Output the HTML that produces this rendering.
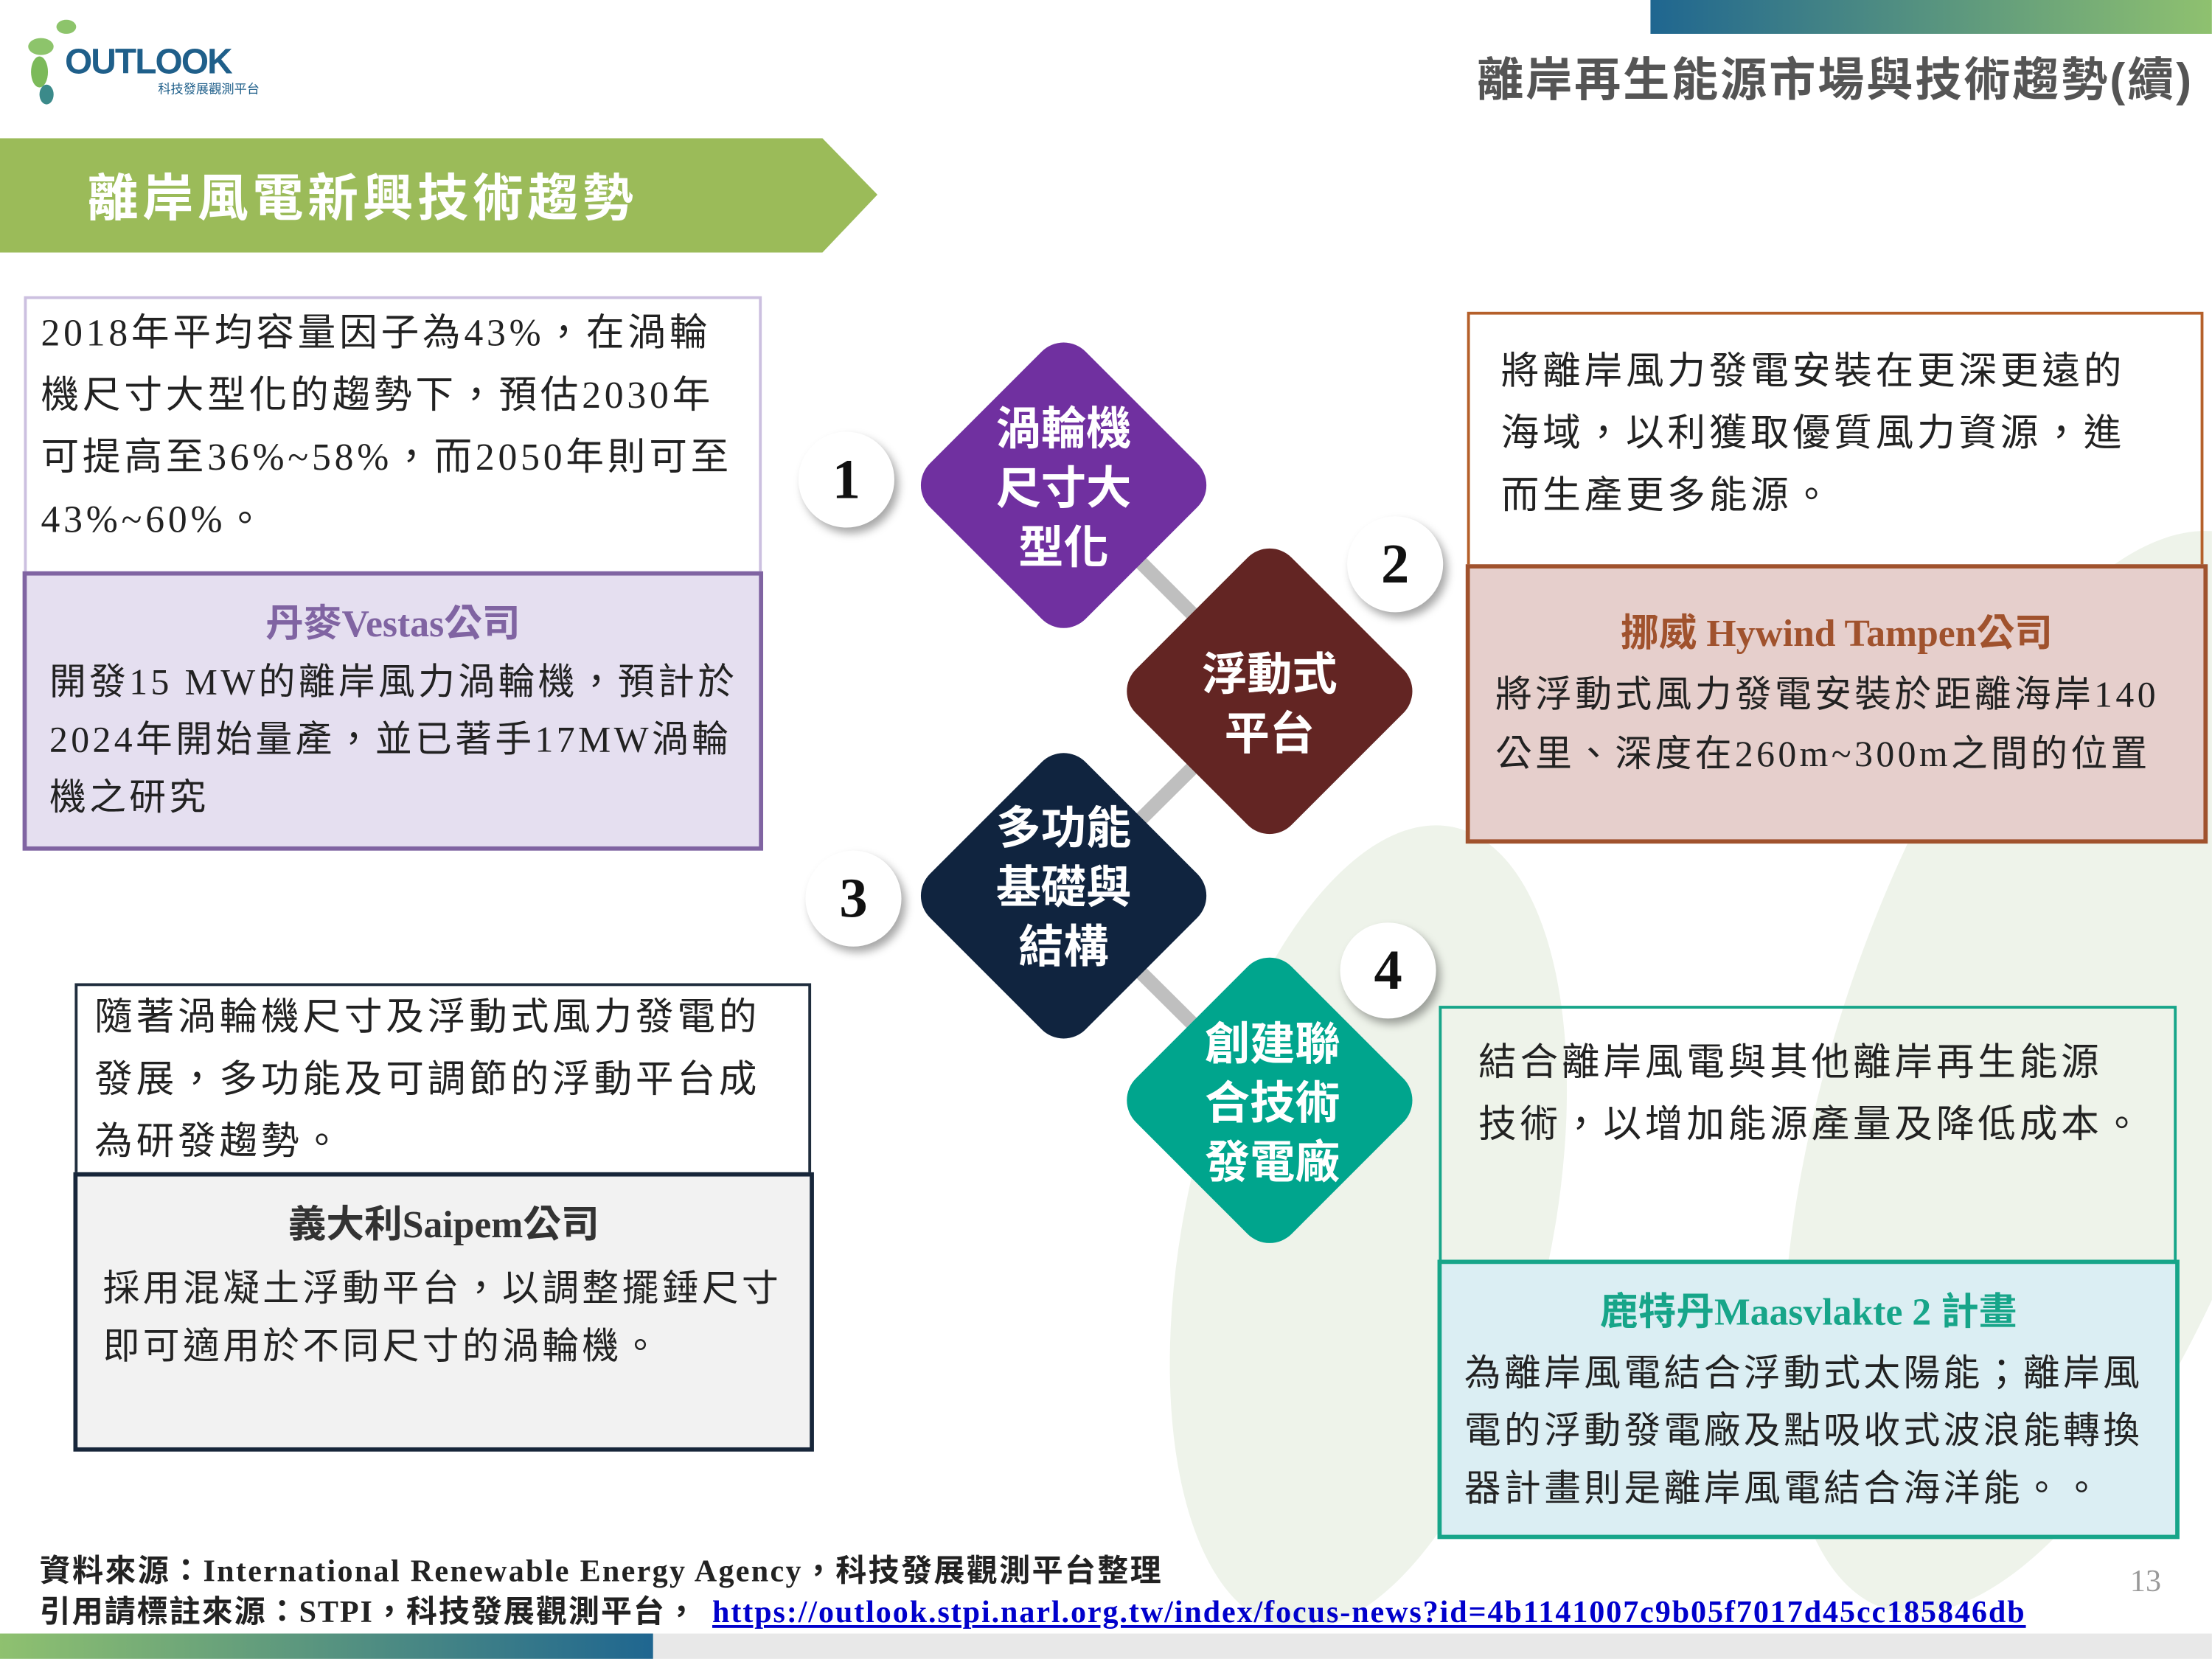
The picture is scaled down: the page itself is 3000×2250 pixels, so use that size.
<!DOCTYPE html>
<html style="overflow:hidden;"><head><meta charset="utf-8">
<style>
html,body{margin:0;padding:0;background:#fff;}
body{width:3000px;height:2250px;overflow:hidden;}
#outer{position:relative;width:3000px;height:2250px;overflow:hidden;}
#w{position:absolute;left:0;top:0;width:1568px;height:1176px;overflow:hidden;transform:scale(1.9132);transform-origin:0 0;font-family:"Liberation Serif","Noto Sans CJK TC",serif;color:#222;}
.a{position:absolute;box-sizing:border-box;}
.t{font-size:27px;line-height:44px;letter-spacing:2.5px;white-space:nowrap;}
.dia{position:absolute;width:156px;height:156px;border-radius:22px;transform:rotate(45deg);}
.dl{position:absolute;width:160px;text-align:center;color:#fff;font-family:"Liberation Sans","Noto Sans CJK TC",sans-serif;font-weight:bold;font-size:32px;line-height:42px;}
.num{position:absolute;width:68px;height:68px;border-radius:50%;background:#fff;box-shadow:3px 4px 6px rgba(0,0,0,.35);font-weight:bold;font-size:40px;text-align:center;line-height:68px;color:#111;}
.h{font-weight:bold;text-align:center;font-size:27px;}
.b{font-size:26px;line-height:41px;letter-spacing:2.3px;white-space:nowrap;}
</style></head><body><div id="outer"><div id="w">
<svg class="a" style="left:0;top:0" width="1568" height="1176"><g fill="#eef3ea"><ellipse cx="1460" cy="760" rx="160" ry="400" transform="rotate(18 1460 760)"/><ellipse cx="970" cy="870" rx="130" ry="290" transform="rotate(12 970 870)"/></g></svg>
<div class="a" style="left:1170px;top:0;width:398px;height:24px;background:linear-gradient(90deg,#1f6690,#8fc16f);"></div>
<div class="a" style="left:1000px;top:30px;width:555px;text-align:right;font-size:33px;font-weight:bold;color:#555;font-family:'Liberation Sans','Noto Sans CJK TC',sans-serif;letter-spacing:1.5px;">離岸再生能源市場與技術趨勢(續)</div>
<div class="a" style="left:22px;top:40px;width:12px;height:22px;border-radius:50%;background:#7cba5a;"></div>
<div class="a" style="left:20px;top:27px;width:18px;height:12px;border-radius:50%;background:#8dc46b;"></div>
<div class="a" style="left:40px;top:14px;width:14px;height:10px;border-radius:50%;background:#8dc46b;"></div>
<div class="a" style="left:28px;top:60px;width:10px;height:14px;border-radius:50%;background:#3b8a8a;"></div>
<div class="a" style="left:46px;top:30px;width:145px;font-family:'Liberation Sans',sans-serif;font-weight:bold;font-size:25px;color:#1f5f8a;letter-spacing:-1px;">OUTLOOK</div>
<div class="a" style="left:112px;top:56px;font-size:9px;color:#1f5f8a;font-family:'Noto Sans CJK TC',sans-serif;">科技發展觀測平台</div>
<svg class="a" style="left:0;top:98px" width="630" height="82"><polygon points="0,0 583,0 622,40 583,81 0,81" fill="#9bbb59"/></svg>
<div class="a" style="left:62px;top:112px;font-size:36px;font-weight:bold;color:#fff;font-family:'Liberation Sans','Noto Sans CJK TC',sans-serif;letter-spacing:3px;">離岸風電新興技術趨勢</div>
<svg class="a" style="left:0;top:0" width="1568" height="1176"><g stroke="#bfbfbf" stroke-width="10"><line x1="754" y1="344" x2="900" y2="490"/><line x1="900" y1="490" x2="754" y2="635"/><line x1="754" y1="635" x2="900" y2="780"/></g></svg>
<div class="dia" style="left:676px;top:266px;background:#7030a0;"></div>
<div class="dia" style="left:822px;top:412px;background:#632523;"></div>
<div class="dia" style="left:676px;top:557px;background:#10243f;"></div>
<div class="dia" style="left:822px;top:702px;background:#00a58d;"></div>
<div class="dl" style="left:674px;top:283px;">渦輪機<br>尺寸大<br>型化</div>
<div class="dl" style="left:820px;top:457px;">浮動式<br>平台</div>
<div class="dl" style="left:674px;top:566px;">多功能<br>基礎與<br>結構</div>
<div class="dl" style="left:822px;top:719px;">創建聯<br>合技術<br>發電廠</div>
<div class="num" style="left:566px;top:306px;">1</div>
<div class="num" style="left:955px;top:366px;">2</div>
<div class="num" style="left:571px;top:603px;">3</div>
<div class="num" style="left:950px;top:654px;">4</div>
<div class="a t" style="left:17px;top:210px;width:523px;height:197px;border:2px solid #ccc0e0;padding:2px 10px;">2018年平均容量因子為43%，在渦輪<br>機尺寸大型化的趨勢下，預估2030年<br>可提高至36%~58%，而2050年則可至<br>43%~60%。</div>
<div class="a" style="left:16px;top:405px;width:525px;height:198px;border:3px solid #8064a2;background:#e5dff0;padding:12px 16px;">
<div class="h" style="color:#8064a2;">丹麥Vestas公司</div>
<div class="b" style="margin-top:4px;">開發15 MW的離岸風力渦輪機，預計於<br>2024年開始量產，並已著手17MW渦輪<br>機之研究</div></div>
<div class="a t" style="left:1040px;top:221px;width:522px;height:182px;border:2px solid #b5602a;padding:18px 22px;">將離岸風力發電安裝在更深更遠的<br>海域，以利獲取優質風力資源，進<br>而生產更多能源。</div>
<div class="a" style="left:1039px;top:400px;width:526px;height:198px;border:3px solid #a0522d;background:#e6cfcc;padding:24px 18px;">
<div class="h" style="color:#a0522d;">挪威 Hywind Tampen公司</div>
<div class="b" style="margin-top:6px;line-height:42px;">將浮動式風力發電安裝於距離海岸140<br>公里、深度在260m~300m之間的位置</div></div>
<div class="a t" style="left:53px;top:697px;width:522px;height:136px;border:2px solid #1f2d3d;padding:0 12px;">隨著渦輪機尺寸及浮動式風力發電的<br>發展，多功能及可調節的浮動平台成<br>為研發趨勢。</div>
<div class="a" style="left:52px;top:831px;width:525px;height:198px;border:3px solid #17263a;background:#f2f2f2;padding:12px 18px;">
<div class="h" style="color:#333;">義大利Saipem公司</div>
<div class="b" style="margin-top:8px;">採用混凝土浮動平台，以調整擺錘尺寸<br>即可適用於不同尺寸的渦輪機。</div></div>
<div class="a t" style="left:1020px;top:713px;width:523px;height:182px;border:2px solid #17a589;padding:16px 26px;">結合離岸風電與其他離岸再生能源<br>技術，以增加能源產量及降低成本。</div>
<div class="a" style="left:1019px;top:893px;width:526px;height:198px;border:3px solid #17a589;background:#dbeef3;padding:12px 16px;">
<div class="h" style="color:#17a589;">鹿特丹Maasvlakte 2 計畫</div>
<div class="b" style="margin-top:6px;">為離岸風電結合浮動式太陽能；離岸風<br>電的浮動發電廠及點吸收式波浪能轉換<br>器計畫則是離岸風電結合海洋能。。</div></div>
<div class="a" style="left:28px;top:1096px;font-size:22px;font-weight:bold;white-space:nowrap;letter-spacing:1.2px;">資料來源：International Renewable Energy Agency，科技發展觀測平台整理</div>
<div class="a" style="left:28px;top:1125px;font-size:22px;font-weight:bold;white-space:nowrap;letter-spacing:1px;">引用請標註來源：STPI，科技發展觀測平台，<span style="color:#0000cc;text-decoration:underline;margin-left:10px;">https://outlook.stpi.narl.org.tw/index/focus-news?id=4b1141007c9b05f7017d45cc185846db</span></div>
<div class="a" style="left:1510px;top:1108px;font-size:22px;color:#999;">13</div>
<div class="a" style="left:0;top:1158px;width:463px;height:18px;background:linear-gradient(90deg,#8fc16f,#1f6690);"></div>
<div class="a" style="left:463px;top:1158px;width:1105px;height:18px;background:#e8e8e8;"></div>
</div></div></body></html>
